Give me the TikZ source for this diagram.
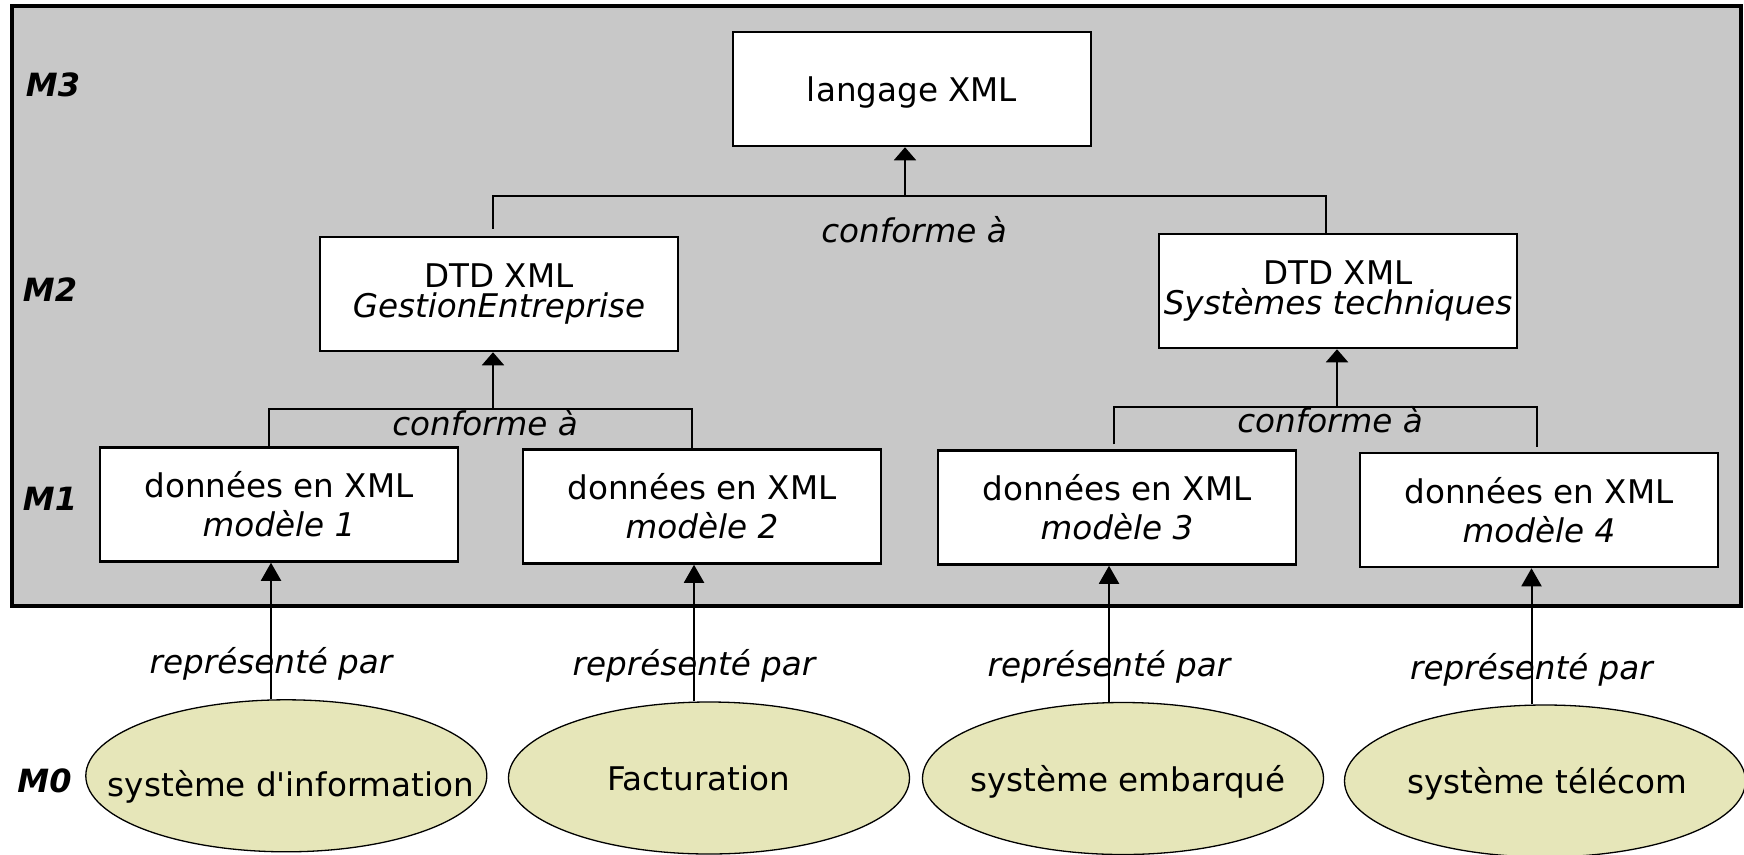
\documentclass[tikz,border=0pt]{standalone}
\usepackage{fontspec}
\setmainfont{DejaVu Sans}[Ligatures=TeXOff]
\usetikzlibrary{shapes.geometric,arrows.meta}
\definecolor{bggray}{RGB}{200,200,200}
\definecolor{ellfill}{RGB}{230,230,185}
\begin{document}
\begin{tikzpicture}[x=1pt,y=-1pt,
  box/.style={draw, fill=white, line width=2.5pt, inner sep=0pt, minimum width=358pt, minimum height=114pt, align=center, font=\fontsize{32.6}{39}\selectfont},
  dtdbox/.style={box, font=\fontsize{32.6}{30}\selectfont},
  lvl/.style={font=\fontsize{32}{38}\selectfont\bfseries\itshape},
  lbl/.style={font=\fontsize{32.6}{39}\selectfont\itshape},
  sys/.style={ellipse, draw, fill=ellfill, line width=1.3pt, minimum width=401pt, minimum height=152pt, inner sep=0pt},
  systext/.style={font=\fontsize{32.6}{39}\selectfont, inner sep=0pt},
  conn/.style={line width=2pt},
  carr/.style={line width=2pt, -{Triangle[length=13pt,width=22pt]}},
  rarr/.style={line width=2pt, -{Triangle[length=18pt,width=20pt]}}]
\useasboundingbox (0,0) rectangle (1744,854);
\draw[fill=bggray, line width=4pt] (12,6) rectangle (1741,606);

% level labels
\node[lvl] (m3) at (53,84.5) {M3};
\node[lvl] (m2) at (50,290) {M2};
\node[lvl] (m1) at (50,499) {M1};
\node[lvl] (m0) at (44.5,781) {M0};

% boxes
\node[box, text depth=0pt] (lang) at (912,89) {langage XML};
\node[dtdbox] (dtdL) at (499,294) {DTD XML\\\textit{GestionEntreprise}};
\node[dtdbox] (dtdR) at (1338,291) {DTD XML\\\textit{Systèmes techniques}};
\node[box] (b1) at (279,504.5) {données en XML\\\textit{modèle 1}};
\node[box] (b2) at (702,506.5) {données en XML\\\textit{modèle 2}};
\node[box] (b3) at (1117,507.5) {données en XML\\\textit{modèle 3}};
\node[box] (b4) at (1539,510) {données en XML\\\textit{modèle 4}};

% systems
\node[sys] (e1) at (286.3,775.8) {};
\node[sys] (e2) at (709,778) {};
\node[sys] (e3) at (1123,778.5) {};
\node[sys] (e4) at (1545,781) {};
\node[systext] (t1) at (291,786.5) {système d'information};
\node[systext] (t2) at (698.5,778) {Facturation};
\node[systext] (t3) at (1128,782) {système embarqué};
\node[systext] (t4) at (1547,784) {système télécom};

% conforme connectors (top)
\coordinate (h0) at (905,196);
\draw[conn] ([xshift=-6pt,yshift=7pt]dtdL.north) |- (h0) -| ([xshift=-12pt]dtdR.north);
\draw[carr] (h0) -- (lang.south -| h0);
\node[lbl] (c0) at (914,230) {conforme à};

% conforme connectors (left)
\coordinate (h1) at (493,409);
\draw[conn] ([xshift=-10pt]b1.north) |- (h1) -| ([xshift=-10pt]b2.north);
\draw[carr] (h1) -- (dtdL.south -| h1);
\node[lbl] (c1) at (485,423) {conforme à};

% conforme connectors (right)
\coordinate (h2) at (1337,407);
\draw[conn] ([xshift=-3pt,yshift=5pt]b3.north) |- (h2) -| ([xshift=-2pt,yshift=5pt]b4.north);
\draw[carr] (h2) -- (dtdR.south -| h2);
\node[lbl] (c2) at (1330,420) {conforme à};

% représenté par
\draw[rarr] ([xshift=-8pt]b1.south |- e1.north) -- ([xshift=-8pt]b1.south);
\draw[rarr] ([xshift=-8pt]b2.south |- e2.north) -- ([xshift=-8pt]b2.south);
\draw[rarr] ([xshift=-8pt]b3.south |- e3.north) -- ([xshift=-8pt]b3.south);
\draw[rarr] ([xshift=-7.5pt]b4.south |- e4.north) -- ([xshift=-7.5pt]b4.south);
\node[lbl] (r1) at (271,664) {représenté par};
\node[lbl] (r2) at (694,666) {représenté par};
\node[lbl] (r3) at (1109,667) {représenté par};
\node[lbl] (r4) at (1531.5,669.5) {représenté par};
\end{tikzpicture}
\end{document}
